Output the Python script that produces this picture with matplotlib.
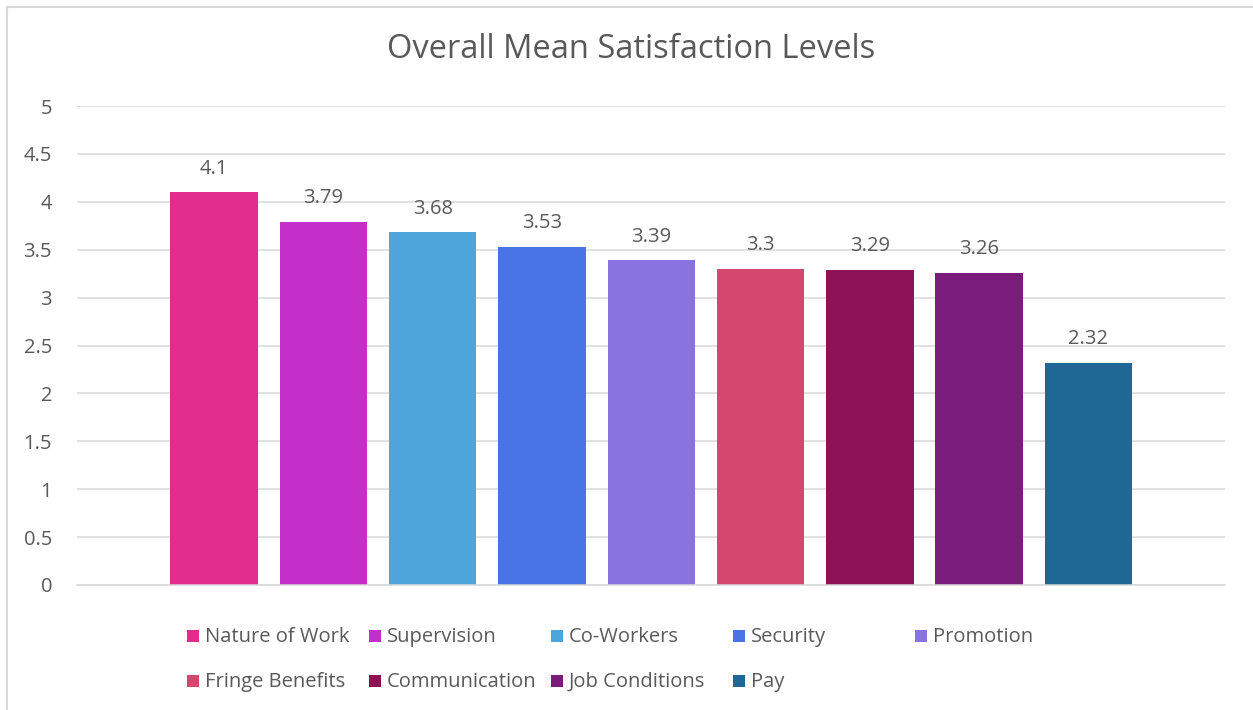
import matplotlib
matplotlib.use("Agg")
import matplotlib.pyplot as plt
from matplotlib.patches import Rectangle
from matplotlib.lines import Line2D

categories = ["Nature of Work", "Supervision", "Co-Workers", "Security", "Promotion",
              "Fringe Benefits", "Communication", "Job Conditions", "Pay"]
values = [4.1, 3.79, 3.68, 3.53, 3.39, 3.3, 3.29, 3.26, 2.32]
value_labels = ["4.1", "3.79", "3.68", "3.53", "3.39", "3.3", "3.29", "3.26", "2.32"]
colors = ["#E22D8F", "#C42FC9", "#4EA5DB", "#4874E5", "#8973E0",
          "#D4476F", "#8E1356", "#7A1C7B", "#1F6895"]
yticks = [0, 0.5, 1, 1.5, 2, 2.5, 3, 3.5, 4, 4.5, 5]
ytick_labels = ["0", "0.5", "1", "1.5", "2", "2.5", "3", "3.5", "4", "4.5", "5"]
title = "Overall Mean Satisfaction Levels"

W, H = 1253, 710
DPI = 100
plt.rcParams['font.family'] = ['Open Sans', 'DejaVu Sans']
TXT = "#595959"
GRID = "#D9D9D9"
FS = 14.5

fig = plt.figure(figsize=(W / DPI, H / DPI), dpi=DPI)
fig.patch.set_facecolor("white")

def fx(px):
    return px / W

def fy(py):
    return 1 - py / H

ax = fig.add_axes([fx(77), fy(585), fx(1225) - fx(77), fy(106) - fy(585)])
x = list(range(len(categories)))
bars = ax.bar(x, values, width=0.8, color=colors, zorder=3)
for xi, v, lab in zip(x, values, value_labels):
    ax.annotate(lab, (xi, v), xytext=(0, 17), textcoords="offset points",
                ha="center", va="center", fontsize=FS, color=TXT)

ax.set_xlim(-1.255, len(categories) - 1 + 1.25)
ax.set_ylim(0, 5)
ax.set_yticks(yticks)
ax.set_yticklabels(ytick_labels, fontsize=FS, color=TXT)
ax.set_xticks([])
ax.tick_params(axis="y", length=0, pad=18)
ax.grid(axis="y", color=GRID, linewidth=1.1, zorder=0)
for s in ["top", "right", "left"]:
    ax.spines[s].set_visible(False)
ax.spines["bottom"].set_color(GRID)
ax.spines["bottom"].set_linewidth(1.1)
ax.spines["bottom"].set_zorder(4)

fig.text(fx(631), fy(50), title, ha="center", va="center", fontsize=23.5, color=TXT)

# legend (Excel-style uniform columns)
col_x0, col_dx = 187, 182
row_y = [636, 681]
ncol = 5
for i, (cat, col) in enumerate(zip(categories, colors)):
    r, c = divmod(i, ncol)
    px = col_x0 + col_dx * c
    py = row_y[r]
    fig.add_artist(Rectangle((fx(px), fy(py + 6)), fx(12), 12 / H,
                             transform=fig.transFigure, facecolor=col, edgecolor="none"))
    fig.text(fx(px + 18), fy(py + 1), cat, ha="left", va="center", fontsize=FS, color=TXT)

# chart border (cropped: only left and top visible)
fig.add_artist(Line2D([fx(7), fx(7)], [fy(7), 0], transform=fig.transFigure,
                      color=GRID, linewidth=1.5))
fig.add_artist(Line2D([fx(7), 1], [fy(7), fy(7)], transform=fig.transFigure,
                      color=GRID, linewidth=1.5))

fig.savefig("out.png", dpi=DPI, facecolor="white")
